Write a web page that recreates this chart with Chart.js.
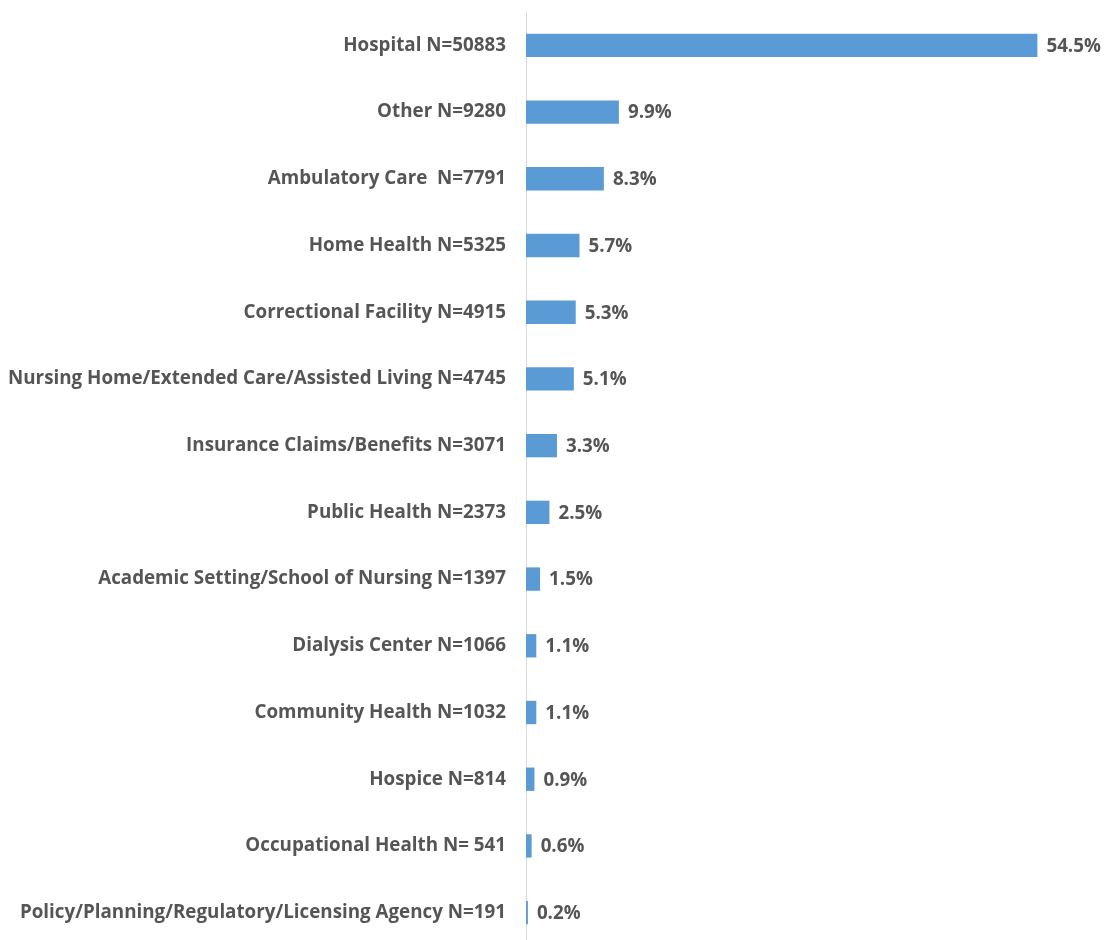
<!DOCTYPE html>
<html>
<head>
<meta charset="utf-8">
<script src="https://cdn.jsdelivr.net/npm/chart.js@4.4.1/dist/chart.umd.min.js"></script>
<style>
  html, body { margin: 0; padding: 0; background: #ffffff; overflow: hidden; }
  #wrap { position: relative; width: 1104px; height: 946px; }
</style>
</head>
<body>
<div id="wrap"><canvas id="chart"></canvas></div>
<script>
// Work settings, with respondent counts
const categories = [
  'Hospital N=50883',
  'Other N=9280',
  'Ambulatory Care  N=7791',
  'Home Health N=5325',
  'Correctional Facility N=4915',
  'Nursing Home/Extended Care/Assisted Living N=4745',
  'Insurance Claims/Benefits N=3071',
  'Public Health N=2373',
  'Academic Setting/School of Nursing N=1397',
  'Dialysis Center N=1066',
  'Community Health N=1032',
  'Hospice N=814',
  'Occupational Health N= 541',
  'Policy/Planning/Regulatory/Licensing Agency N=191'
];
// Share of respondents, percent
const shares = [54.5, 9.9, 8.3, 5.7, 5.3, 5.1, 3.3, 2.5, 1.5, 1.1, 1.1, 0.9, 0.6, 0.2];

const FONT = "'Open Sans', sans-serif";
const FONT_SIZE = 18.8;
const TEXT = '#555555';

// Prints each share just past the end of its bar
const valueLabels = {
  id: 'valueLabels',
  afterDatasetsDraw(chart) {
    const { ctx } = chart;
    const meta = chart.getDatasetMeta(0);
    ctx.save();
    ctx.font = `700 ${FONT_SIZE}px ${FONT}`;
    ctx.fillStyle = TEXT;
    ctx.textAlign = 'left';
    ctx.textBaseline = 'middle';
    meta.data.forEach((bar, i) => {
      ctx.fillText(shares[i].toFixed(1) + '%', bar.x + 9, bar.y + 1);
    });
    ctx.restore();
  }
};

new Chart(document.getElementById('chart'), {
  type: 'bar',
  data: {
    labels: categories,
    datasets: [{
      data: shares,
      backgroundColor: '#5b9bd5',
      borderWidth: 0,
      barPercentage: 0.35,
      categoryPercentage: 1.0
    }]
  },
  options: {
    indexAxis: 'y',
    responsive: true,
    maintainAspectRatio: false,
    animation: false,
    layout: { padding: { top: 12, right: 15, bottom: 0, left: 0 } },
    plugins: {
      legend: { display: false },
      tooltip: { enabled: false }
    },
    scales: {
      x: {
        display: false,
        min: 0,
        max: 60
      },
      y: {
        grid: { display: false, drawTicks: false },
        border: { display: true, color: '#d9d9d9', width: 1 },
        ticks: {
          color: TEXT,
          padding: 20,
          font: { family: FONT, size: FONT_SIZE, weight: '700' }
        },
        afterFit(scale) {
          // fixed label column; no extra room above/below the category band
          scale.width = 526;
          scale.paddingTop = 0;
          scale.paddingBottom = 0;
        }
      }
    }
  },
  plugins: [valueLabels]
});
</script>
</body>
</html>
